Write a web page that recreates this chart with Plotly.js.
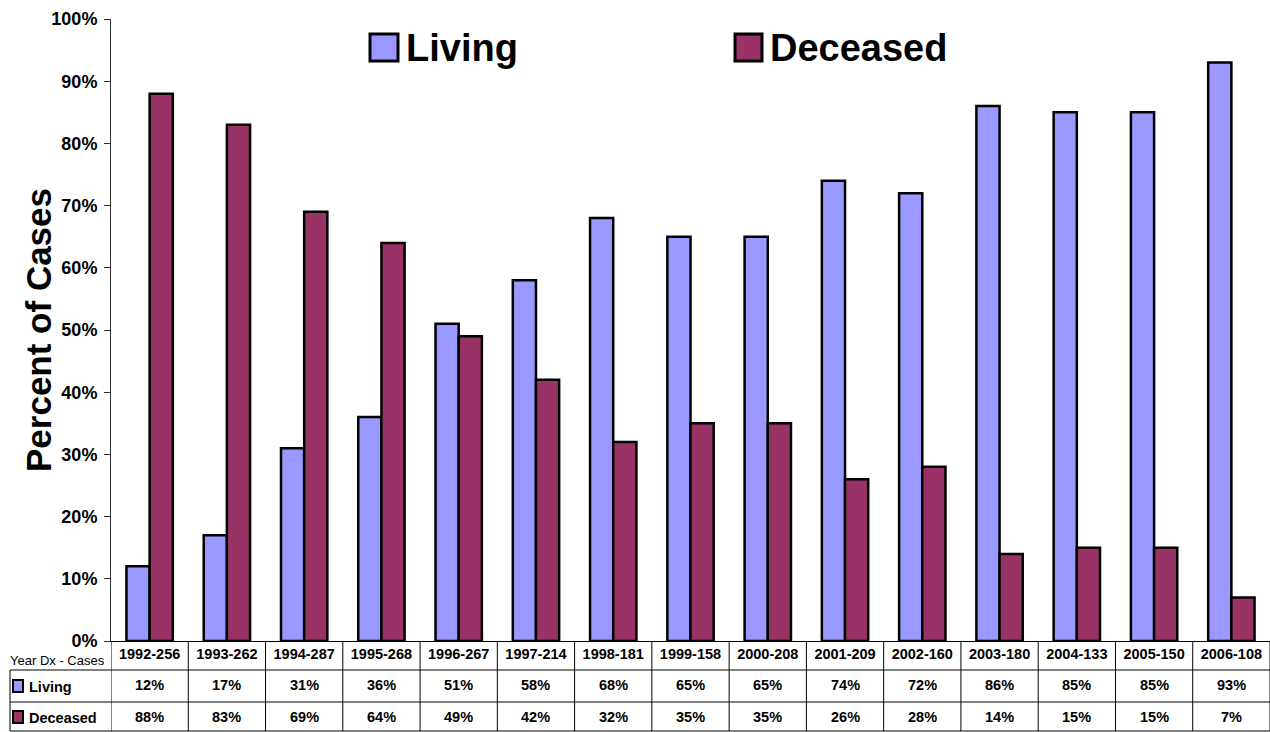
<!DOCTYPE html>
<html>
<head>
<meta charset="utf-8">
<script src="https://cdn.plot.ly/plotly-3.0.1.min.js"></script>
<style>
html,body{margin:0;padding:0;background:#fff;}
#chart{width:1270px;height:732px;}
</style>
</head>
<body>
<div id="chart"></div>
<script>
const categories = ["1992-256","1993-262","1994-287","1995-268","1996-267","1997-214","1998-181","1999-158","2000-208","2001-209","2002-160","2003-180","2004-133","2005-150","2006-108"];
const living = [12,17,31,36,51,58,68,65,65,74,72,86,85,85,93];
const deceased = [88,83,69,64,49,42,32,35,35,26,28,14,15,15,7];
const seriesNames = ["Living","Deceased"];
const rowHeader = "Year Dx - Cases";
const yTitle = "Percent of Cases";
const yTickVals = [0,10,20,30,40,50,60,70,80,90,100];
const yTickLabels = ["0%","10%","20%","30%","40%","50%","60%","70%","80%","90%","100%"];

const W = 1270, H = 732;
const M = {l:111, r:0, t:19, b:91};
const PW = W - M.l - M.r, PH = H - M.t - M.b;
const px2x = px => (px - M.l) / PW;
const py2y = py => (H - M.b - py) / PH;

const FONT = "Liberation Sans, Arial, Helvetica, sans-serif";
const colLiving = "#9999FF", colDeceased = "#993366";

const traces = [
  {type:"bar", name:seriesNames[0], x:categories, y:living,
   marker:{color:colLiving, line:{color:"#000", width:2.5}}, hoverinfo:"x+y"},
  {type:"bar", name:seriesNames[1], x:categories, y:deceased,
   marker:{color:colDeceased, line:{color:"#000", width:2.5}}, hoverinfo:"x+y"}
];

const shapes = [];
const annotations = [];
const lineStyle = {color:"#000", width:1};

// table vertical separators at category boundaries
for (let i = 0; i <= categories.length; i++) {
  shapes.push({type:"line", xref:"x", yref:"paper", x0:i-0.5, x1:i-0.5, y0:0, y1:py2y(731), line:lineStyle});
}
// table horizontal lines
[670, 702, 731].forEach(py => {
  shapes.push({type:"line", xref:"paper", yref:"paper", x0:px2x(10), x1:1, y0:py2y(py), y1:py2y(py), line:lineStyle});
});
shapes.push({type:"line", xref:"paper", yref:"paper", x0:px2x(10), x1:px2x(10), y0:py2y(670), y1:py2y(731), line:lineStyle});

// table values
const rows = [living, deceased];
const rowCenters = [685, 717];
rows.forEach((vals, r) => {
  vals.forEach((v, i) => {
    annotations.push({xref:"x", yref:"paper", x:categories[i], y:py2y(rowCenters[r]), text:v + "%",
      showarrow:false, xanchor:"center", yanchor:"middle",
      font:{family:FONT, size:14.5, color:"#000", weight:"bold"}});
  });
});
// row header
annotations.push({xref:"paper", yref:"paper", x:px2x(8), y:py2y(661), text:rowHeader, showarrow:false,
  xanchor:"left", yanchor:"middle", font:{family:FONT, size:13, color:"#000"}});
// row legend keys
const keyColors = [colLiving, colDeceased];
[[680,692],[711,723]].forEach((yy, r) => {
  shapes.push({type:"rect", xref:"paper", yref:"paper", x0:px2x(13), x1:px2x(23), y0:py2y(yy[1]), y1:py2y(yy[0]),
    fillcolor:keyColors[r], line:{color:"#000", width:2}});
  annotations.push({xref:"paper", yref:"paper", x:px2x(27), y:py2y((yy[0]+yy[1])/2 + 1), text:seriesNames[r], showarrow:false,
    xanchor:"left", yanchor:"middle", font:{family:FONT, size:14.5, color:"#000", weight:"bold"}});
});
// top legend
[[370,398],[735,762]].forEach((xx, r) => {
  shapes.push({type:"rect", xref:"paper", yref:"paper", x0:px2x(xx[0]), x1:px2x(xx[1]), y0:py2y(61), y1:py2y(34),
    fillcolor:keyColors[r], line:{color:"#000", width:3}});
  annotations.push({xref:"paper", yref:"paper", x:px2x(xx[1]+6), y:py2y(48), text:seriesNames[r], showarrow:false,
    xanchor:"left", yanchor:"middle", font:{family:FONT, size:38, color:"#000", weight:"bold"}});
});
// y-axis title
annotations.push({xref:"paper", yref:"paper", x:px2x(38), y:0.5, text:yTitle, textangle:-90, showarrow:false,
  xanchor:"center", yanchor:"middle", font:{family:FONT, size:35, color:"#000", weight:"bold"}});

const layout = {
  width:W, height:H,
  margin:M,
  paper_bgcolor:"#fff", plot_bgcolor:"#fff",
  showlegend:false,
  barmode:"group", bargap:0.4, bargroupgap:0,
  font:{family:FONT, color:"#000"},
  xaxis:{type:"category", range:[-0.5, categories.length-0.5], showline:true, linecolor:"#000", linewidth:1,
    ticks:"", showgrid:false, zeroline:false, fixedrange:true,
    tickfont:{family:FONT, size:14.5, color:"#000", weight:"bold"}},
  yaxis:{range:[0,100], tickmode:"array", tickvals:yTickVals, ticktext:yTickLabels,
    showline:true, linecolor:"#333", linewidth:1, ticks:"outside", ticklen:6, tickcolor:"#333",
    ticklabelstandoff:3,
    showgrid:false, zeroline:false,
    tickfont:{family:FONT, size:18, color:"#000", weight:"bold"}},
  shapes:shapes,
  annotations:annotations
};

Plotly.newPlot("chart", traces, layout, {displayModeBar:false, staticPlot:true});
</script>
</body>
</html>
